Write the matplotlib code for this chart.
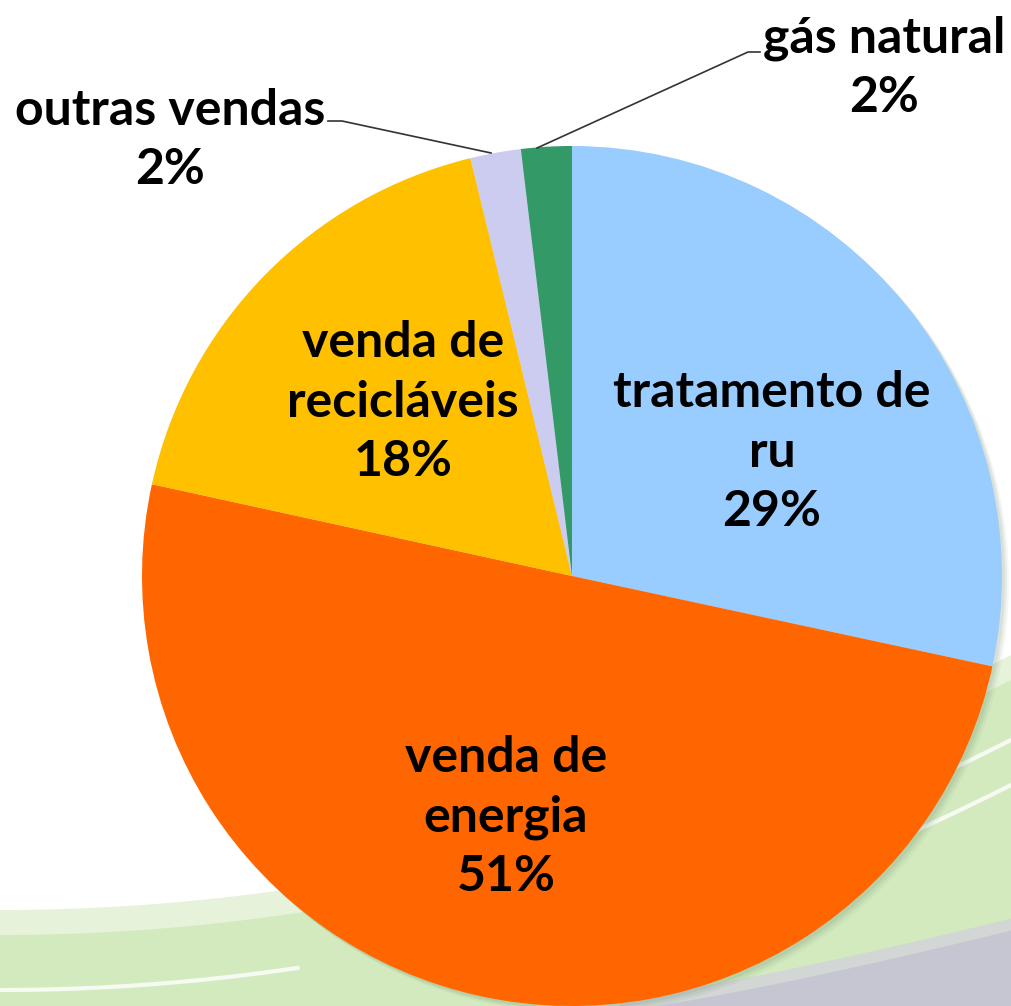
import numpy as np
import matplotlib.pyplot as plt
from matplotlib.patches import Circle

# slice data, clockwise from 12 o'clock
labels = ['tratamento de\nru', 'venda de\nenergia', 'venda de\nrecicláveis', 'outras vendas', 'gás natural']
values = [28.4, 50.1, 17.8, 1.9, 1.9]
pct_labels = ['29%', '51%', '18%', '2%', '2%']
colors = ['#99CCFF', '#FF6600', '#FFC000', '#CCCCF0', '#339966']

W, H = 1011, 1006
fig = plt.figure(figsize=(W / 100, H / 100), dpi=100)
ax = fig.add_axes([0, 0, 1, 1])

# background swooshes (decoration only; pixel coords, y up)
xs = np.linspace(0, W, 300)
green_top = H - (935 - 255 * (xs / W) ** 2)
ax.fill_between(xs, 0, green_top + 25, color='#e6f3da', lw=0, zorder=0)
ax.fill_between(xs, 0, green_top, color='#d3eabf', lw=0, zorder=0)
xg = np.linspace(620, W, 200)
gray_top = H - (1010 - 80 * ((xg - 620) / (W - 620)) ** 1.2)
ax.fill_between(xg, 0, gray_top + 12, color='#d2d6d4', lw=0, zorder=0)
ax.fill_between(xg, 0, gray_top, color='#c6c6d2', lw=0, zorder=0)
for off in (60, 105):
    ax.plot(xs[xs > 850], green_top[xs > 850] - off, color='white', lw=3, alpha=0.8, zorder=0.5)
ax.plot(xs[xs < 300], green_top[xs < 300] - 55, color='white', lw=3, alpha=0.8, zorder=0.5)

cx, cy, r = 572, H - 576, 430
# soft shadow
for k, a in enumerate([0.10, 0.08, 0.06]):
    ax.add_patch(Circle((cx + 3 + 2 * k, cy - 3 - 2 * k), r, color='#557755', alpha=a, lw=0, zorder=1))

ax.pie(values, colors=colors, startangle=90, counterclock=False, center=(cx, cy), radius=r,
       wedgeprops=dict(linewidth=0), frame=True)
ax.set_xlim(0, W)
ax.set_ylim(0, H)
ax.set_aspect('equal')
ax.axis('off')

font = dict(family='Lato', fontweight='bold', fontsize=36, color='black',
            ha='center', va='center', linespacing=1.38, zorder=5)
text_pos = [(772, H - 452), (506, H - 817), (403, H - 402), (170, H - 140), (884, H - 68)]
for lab, pct, (tx, ty) in zip(labels, pct_labels, text_pos):
    ax.text(tx, ty, lab + '\n' + pct, **font)

# leader lines for the two small slices
ax.plot([491, 342, 328], [H - 153, H - 121, H - 121], color='#333333', lw=1.2, zorder=4)
ax.plot([537, 748, 760], [H - 148, H - 52, H - 52], color='#333333', lw=1.2, zorder=4)

fig.savefig('out.png', dpi=100)
